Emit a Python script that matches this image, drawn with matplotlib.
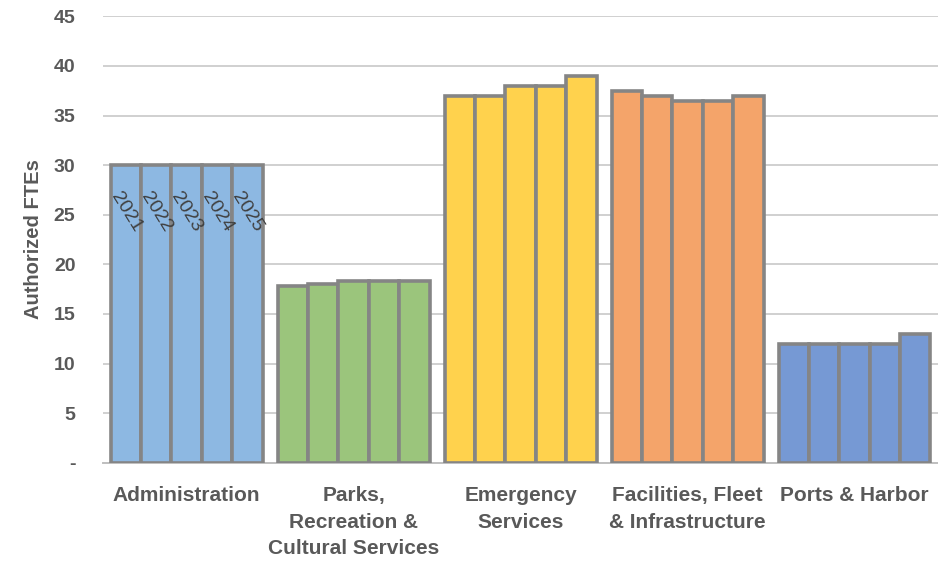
import matplotlib.pyplot as plt
import numpy as np

# Authorized FTEs by department, fiscal years 2021-2025
departments = ["Administration", "Parks,\nRecreation &\nCultural Services", "Emergency\nServices",
               "Facilities, Fleet\n& Infrastructure", "Ports & Harbor"]
years = ["2021", "2022", "2023", "2024", "2025"]
ftes = [
    [30, 30, 30, 30, 30],
    [17.8, 18, 18.3, 18.3, 18.3],
    [37, 37, 38, 38, 39],
    [37.5, 37, 36.5, 36.5, 37],
    [12, 12, 12, 12, 13],
]
dept_colors = ["#8db8e2", "#9bc57c", "#ffd24d", "#f4a46a", "#7699d4"]
yticks = [0, 5, 10, 15, 20, 25, 30, 35, 40, 45]
ytick_labels = ["-", "5", "10", "15", "20", "25", "30", "35", "40", "45"]

plt.rcParams['font.family'] = ['Liberation Sans', 'DejaVu Sans']

fig = plt.figure(figsize=(9.38, 5.63), dpi=100)
ax = fig.add_axes([0.11, 0.178, 0.89, 0.793])

n = len(years)
group_w = 0.91
bar_w = group_w / n
x = np.arange(len(departments))

for i, dept in enumerate(departments):
    offsets = x[i] - group_w / 2 + bar_w * (np.arange(n) + 0.5)
    bars = ax.bar(offsets, ftes[i], width=bar_w, color=dept_colors[i],
                  edgecolor="#858585", linewidth=2.6, zorder=3)
    if i == 0:
        # year labels written down the first group of bars
        for b, yr in zip(bars, years):
            ax.text(b.get_x() + b.get_width() / 2, 25.3, yr, rotation=-58,
                    ha="center", va="center", fontsize=14, color="#404040",
                    rotation_mode="anchor", zorder=4)

ax.set_xlim(-0.5, len(departments) - 0.5)
ax.set_ylim(0, 45)
ax.set_yticks(yticks)
ax.set_yticklabels(ytick_labels, fontweight="bold")
ax.set_xticks(x)
ax.set_xticklabels(departments, linespacing=1.5, fontweight="bold")
ax.tick_params(axis="both", length=0, labelcolor="#595959")
ax.tick_params(axis="y", pad=20, labelsize=14)
ax.tick_params(axis="x", pad=17, labelsize=15)

ax.yaxis.grid(True, color="#d0d0d0", linewidth=1.4, zorder=0)
ax.set_axisbelow(True)
for side in ["top", "right", "left"]:
    ax.spines[side].set_visible(False)
ax.spines["bottom"].set_color("#bfbfbf")
ax.spines["bottom"].set_linewidth(1.4)

ax.set_ylabel("Authorized FTEs", fontsize=14.5, fontweight="bold", color="#595959", labelpad=8)

fig.savefig("out.png", dpi=100)
